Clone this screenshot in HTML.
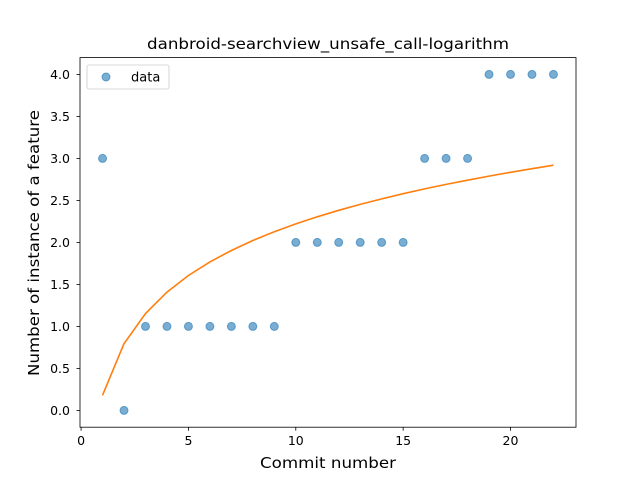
<!DOCTYPE html>
<html><head><meta charset="utf-8"><style>body{margin:0;background:#fff}svg{display:block;font-family:"DejaVu Sans","Liberation Sans",sans-serif}</style></head>
<body>
<svg id="chart" width="640" height="480" viewBox="0 0 640 480">
<rect width="640" height="480" fill="#fff"/>
<text x="328" y="49" text-anchor="middle" font-size="15" textLength="362" lengthAdjust="spacingAndGlyphs">danbroid-searchview_unsafe_call-logarithm</text>
<g id="ticks"></g>
<g id="marks"></g>
<rect x="80" y="57.6" width="496" height="369.6" fill="none" stroke="#000" stroke-width="0.8"/>
<text x="328" y="468" text-anchor="middle" font-size="15" textLength="136" lengthAdjust="spacingAndGlyphs">Commit number</text>
<text transform="translate(39,243) rotate(-90)" text-anchor="middle" font-size="15" textLength="266" lengthAdjust="spacingAndGlyphs">Number of instance of a feature</text>
<g>
<rect x="87" y="65" width="82" height="24" rx="2" fill="#fff" stroke="#ccc" stroke-width="0.8"/>
<circle cx="106" cy="77" r="4" fill="#1f77b4" fill-opacity="0.6" stroke="#1f77b4" stroke-opacity="0.6"/>
<text x="131" y="81.5" font-size="13">data</text>
</g>
</svg>
<script>
const commits = [1,2,3,4,5,6,7,8,9,10,11,12,13,14,15,16,17,18,19,20,21,22];
const counts = [3,0,1,1,1,1,1,1,1,2,2,2,2,2,2,3,3,3,4,4,4,4];
const fitA = 0.18, fitB = 0.886;
const xTicks = [0,5,10,15,20];
const yTicks = [0,0.5,1,1.5,2,2.5,3,3.5,4];
const NS = "http://www.w3.org/2000/svg";
const X = v => 80 + (v + 0.05) / 23.1 * 496;
const Y = v => 427.2 - (v + 0.2) / 4.4 * 369.6;
const tg = document.getElementById('ticks');
function mk(tag, attrs, parent){const e=document.createElementNS(NS,tag);for(const k in attrs)e.setAttribute(k,attrs[k]);parent.appendChild(e);return e;}
xTicks.forEach(t=>{
  const l=mk('line',{x1:X(t),x2:X(t),y1:427.2,y2:430.7,stroke:'#000','stroke-width':0.8},tg);
  
  
  const s=mk('text',{x:X(t),y:445,'text-anchor':'middle','font-size':12.5},tg);s.textContent=t;
  
  
});
yTicks.forEach(t=>{
  const l=mk('line',{x1:76.5,x2:80,y1:Y(t),y2:Y(t),stroke:'#000','stroke-width':0.8},tg);
  
  
  const s=mk('text',{x:70,y:Y(t)+4.5,'text-anchor':'end','font-size':12.5},tg);s.textContent=t.toFixed(1);
  
  
});
const mg=document.getElementById('marks');
commits.forEach((c,i)=>{
  const p=mk('circle',{cx:X(c),cy:Y(counts[i]),r:4,fill:'#1f77b4','fill-opacity':0.6,stroke:'#1f77b4','stroke-opacity':0.6},mg);
  
  
});
const pts=commits.map(c=>X(c).toFixed(1)+','+Y(fitA+fitB*Math.log(c)).toFixed(1)).join(' ');
const fl=mk('polyline',{points:pts,fill:'none',stroke:'#ff7f0e','stroke-width':1.6},mg);


</script>
</body></html>
